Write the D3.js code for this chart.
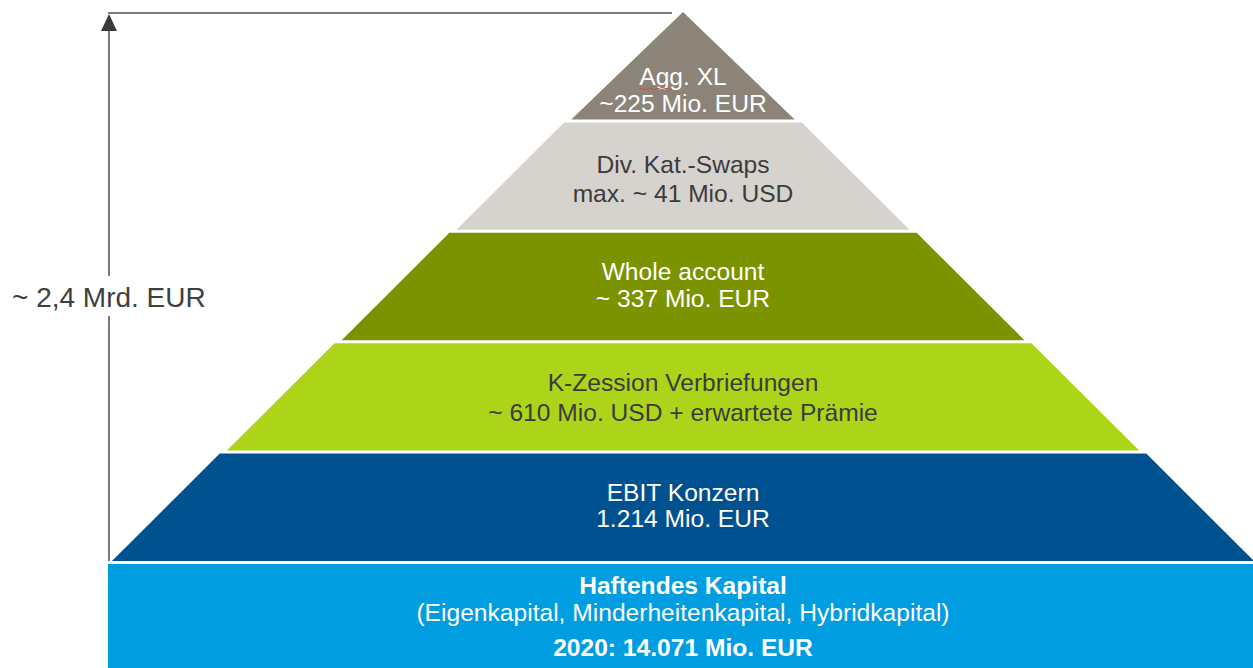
<!DOCTYPE html>
<html>
<head>
<meta charset="utf-8">
<script src="https://cdn.jsdelivr.net/npm/d3@7"></script>
<style>
  body { margin: 0; background: #fff; }
  svg { display: block; font-family: "Liberation Sans", Arial, sans-serif; }
</style>
</head>
<body>
<script>
//layer data, top to bottom
var layerNames = ["Agg. XL", "Div. Kat.-Swaps", "Whole account", "K-Zession Verbriefungen", "EBIT Konzern"];
var layerValues = ["~225 Mio. EUR", "max. ~ 41 Mio. USD", "~ 337 Mio. EUR", "~ 610 Mio. USD + erwartete Prämie", "1.214 Mio. EUR"];
var layerColors = ["#8c8479", "#d6d2cd", "#7c9300", "#acd51a", "#005190"];
var layerTextColors = ["#ffffff", "#3c3c3c", "#ffffff", "#3c3c3c", "#ffffff"];

//base block
var baseLines = ["Haftendes Kapital", "(Eigenkapital, Minderheitenkapital, Hybridkapital)", "2020: 14.071 Mio. EUR"];
var baseBold = [true, false, true];

var totalLabel = "~ 2,4 Mrd. EUR";

var width = 1253, height = 668;
var apexX = 683, apexY = 12;

var svg = d3.select("body").append("svg")
    .attr("width", width)
    .attr("height", height);

//vertical band per layer
var yBand = d3.scaleBand()
    .domain(layerNames)
    .range([apexY, 561])
    .paddingInner(0.027);

//half width of the pyramid at a given y
var halfW = d3.scaleLinear()
    .domain([apexY, 561])
    .range([0, 571]);

var layers = svg.selectAll(".layer")
    .data(layerNames)
    .enter()
    .append("g")
    .attr("class", "layer");

layers.append("path")
    .attr("d", function(d, i){
        var y0 = yBand(d), y1 = y0 + yBand.bandwidth();
        var h0 = i == 0 ? 0 : halfW(y0) + 4, h1 = halfW(y1);
        return "M" + (apexX - h0) + "," + y0 + "L" + (apexX + h0) + "," + y0 +
            "L" + (apexX + h1) + "," + y1 + "L" + (apexX - h1) + "," + y1 + "Z";
    })
    .style("fill", function(d, i){ return layerColors[i]; });

//baseline offsets of the two text lines inside each layer
var lineOffsets = [[73, 100], [51, 80], [47, 74], [48, 78], [47, 73]];

layers.append("text")
    .attr("x", apexX)
    .attr("y", function(d, i){ return yBand(d) + lineOffsets[i][0]; })
    .attr("text-anchor", "middle")
    .style("font-size", "24.6px")
    .style("fill", function(d, i){ return layerTextColors[i]; })
    .text(function(d){ return d; });

layers.append("text")
    .attr("x", apexX)
    .attr("y", function(d, i){ return yBand(d) + lineOffsets[i][1]; })
    .attr("text-anchor", "middle")
    .style("font-size", "24.6px")
    .style("fill", function(d, i){ return layerTextColors[i]; })
    .text(function(d, i){ return layerValues[i]; });

//spell check squiggle under "Agg"
svg.append("path")
    .attr("d", "M640,89 q2,-1.5 4,0 t4,0 t4,0 t4,0 t4,0 t4,0 t4,0 t4,0")
    .style("fill", "none")
    .style("stroke", "#d24a4a")
    .style("stroke-width", 1);

//base block
svg.append("rect")
    .attr("x", 108)
    .attr("y", 564)
    .attr("width", width - 108)
    .attr("height", height - 564)
    .style("fill", "#009de0");

var baseY = [594, 621, 656];
svg.selectAll(".baseText")
    .data(baseLines)
    .enter()
    .append("text")
    .attr("class", "baseText")
    .attr("x", apexX)
    .attr("y", function(d, i){ return baseY[i]; })
    .attr("text-anchor", "middle")
    .style("font-size", "24.6px")
    .style("font-weight", function(d, i){ return baseBold[i] ? "bold" : "normal"; })
    .style("fill", "#ffffff")
    .text(function(d){ return d; });

//total arrow
svg.append("defs").append("marker")
    .attr("id", "arrow")
    .attr("viewBox", "0 0 16 17")
    .attr("refX", 8)
    .attr("refY", 2)
    .attr("markerWidth", 16)
    .attr("markerHeight", 17)
    .attr("markerUnits", "userSpaceOnUse")
    .attr("orient", "0")
    .append("path")
    .attr("d", "M8,0L16,17L0,17Z")
    .style("fill", "#3a3a3a");

svg.append("line")
    .attr("x1", 109).attr("y1", 561)
    .attr("x2", 109).attr("y2", 16)
    .style("stroke", "#7a7a7a")
    .style("stroke-width", 2)
    .attr("marker-end", "url(#arrow)");

svg.append("line")
    .attr("x1", 108).attr("y1", 13)
    .attr("x2", 672).attr("y2", 13)
    .style("stroke", "#7a7a7a")
    .style("stroke-width", 2);

svg.append("rect")
    .attr("x", 8).attr("y", 276)
    .attr("width", 204).attr("height", 40)
    .style("fill", "#ffffff");

svg.append("text")
    .attr("x", 12)
    .attr("y", 307)
    .style("font-size", "28px")
    .style("fill", "#404040")
    .text(totalLabel);
</script>
</body>
</html>
